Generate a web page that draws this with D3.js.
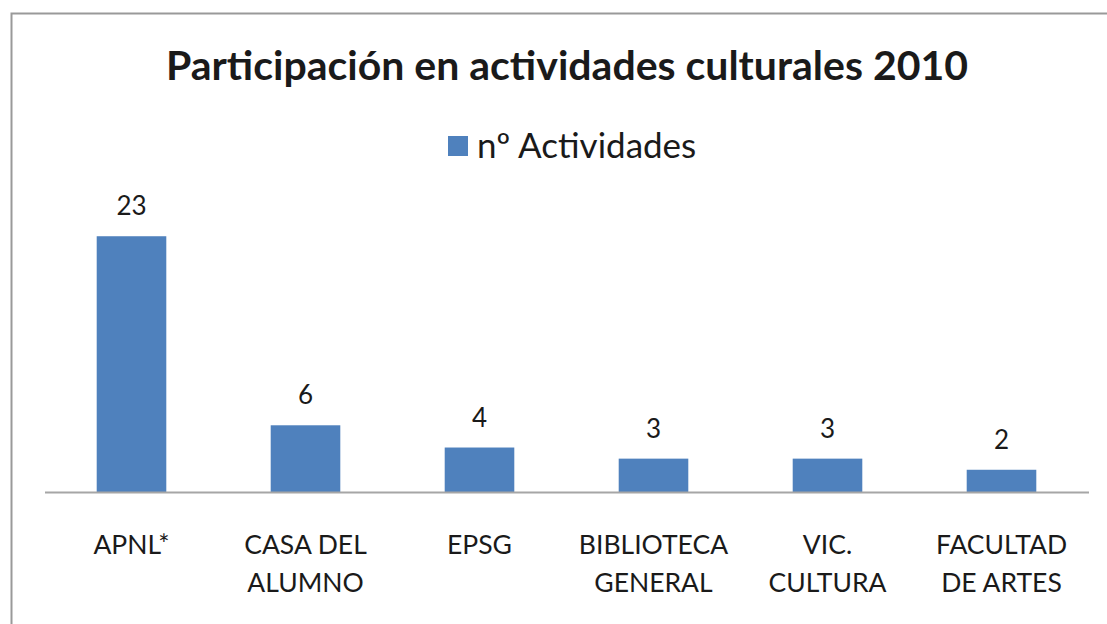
<!DOCTYPE html>
<html><head><meta charset="utf-8">
<script src="https://cdn.jsdelivr.net/npm/d3@7"></script>
<style>body{margin:0;background:#fff;}svg{display:block;}</style>
</head><body>
<svg id="c" width="1107" height="624"></svg>
<script>
const categories = [["APNL*"],["CASA DEL","ALUMNO"],["EPSG"],["BIBLIOTECA","GENERAL"],["VIC.","CULTURA"],["FACULTAD","DE ARTES"]];
const values = [23,6,4,3,3,2];
const seriesName = "nº Actividades";
const title = "Participación en actividades culturales 2010";

const svg = d3.select("#c");
const font = "Lato, 'Open Sans', sans-serif";
svg.append("rect").attr("x",11.5).attr("y",13.5).attr("width",1120).attr("height",640)
  .attr("fill","#fff").attr("stroke","#999").attr("stroke-width",2);

const keys = categories.map((c,i)=>i);
const x = d3.scaleBand().domain(keys).range([44.5,1088.5]).paddingInner(0.6).paddingOuter(0.3);
const y = d3.scaleLinear().domain([0,25]).range([492,214]);

svg.append("text").attr("x",567).attr("y",80).attr("text-anchor","middle")
  .attr("font-family",font).attr("font-weight","bold").attr("font-size",41).attr("fill","#1a1a1a").text(title);

svg.append("rect").attr("x",448).attr("y",136).attr("width",20).attr("height",20).attr("fill","#4f81bd");
svg.append("text").attr("x",477).attr("y",158).attr("font-family",font).attr("font-size",35).attr("fill","#1a1a1a").text(seriesName);

svg.selectAll(".bar").data(values).join("rect").attr("class","bar")
  .attr("x",(d,i)=>x(i)).attr("width",x.bandwidth())
  .attr("y",d=>y(d)).attr("height",d=>y(0)-y(d)).attr("fill","#4f81bd");

svg.selectAll(".lbl").data(values).join("text").attr("class","lbl")
  .attr("x",(d,i)=>x(i)+x.bandwidth()/2).attr("y",d=>y(d)-21)
  .attr("text-anchor","middle").attr("font-family",font).attr("font-size",26).attr("fill","#1a1a1a").text(d=>d);

const axis = d3.axisBottom(x).tickSize(0).tickFormat("");
const g = svg.append("g").attr("transform","translate(0,492)").call(axis);
g.select(".domain").attr("stroke","#a6a6a6").attr("stroke-width",2);

categories.forEach((lines,i)=>{
  const t = svg.append("text").attr("text-anchor","middle").attr("font-family",font).attr("font-size",26.5).attr("fill","#1a1a1a");
  lines.forEach((ln,j)=>{
    t.append("tspan").attr("x",x(i)+x.bandwidth()/2).attr("y",554+j*38).text(ln);
  });
});
</script>
</body></html>
